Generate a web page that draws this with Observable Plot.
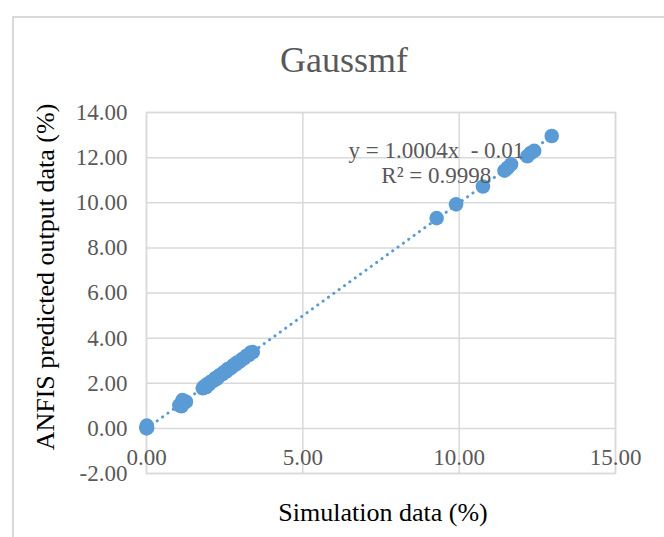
<!DOCTYPE html>
<html>
<head>
<meta charset="utf-8">
<script src="https://cdn.jsdelivr.net/npm/d3@7"></script>
<script src="https://cdn.jsdelivr.net/npm/@observablehq/plot@0.6"></script>
<style>
  html, body { margin: 0; padding: 0; background: #fff; }
  #wrap { position: relative; width: 664px; height: 537px; overflow: hidden; }
  #border { position: absolute; left: 12px; top: 16px; width: 700px; height: 600px;
            border-left: 2px solid #d9d9d9; border-top: 2px solid #d9d9d9; box-sizing: border-box; }
  #wrap svg { position: absolute; left: 0; top: 0; }
</style>
</head>
<body>
<div id="wrap"><div id="border"></div></div>
<script>
const title = "Gaussmf";
const xLabel = "Simulation data (%)";
const yLabel = "ANFIS predicted output data (%)";
const xTicks = [0, 5, 10, 15];
const yTicks = [-2, 0, 2, 4, 6, 8, 10, 12, 14];
const trendSlope = 1.0004;
const trendIntercept = -0.01;
const equationText = "y = 1.0004x  - 0.01\nR² = 0.9998";

const simulation = [
  0.00, 0.00, 0.01, 0.02,
  1.05, 1.10, 1.12, 1.18, 1.22, 1.26, 1.15,
  1.80, 1.85, 1.90, 1.95, 2.00, 2.05, 2.10, 2.15, 2.20, 2.25, 2.30, 2.35, 2.42, 2.48,
  2.55, 2.60, 2.66, 2.72, 2.78, 2.85, 2.90, 2.97, 3.05, 3.12, 3.20, 3.27, 3.33, 3.40,
  9.28, 9.90, 10.76, 11.45, 11.55, 11.66, 12.18, 12.28, 12.40, 12.96
];
const predicted = [
  0.00, 0.05, 0.12, 0.03,
  1.02, 1.08, 0.98, 1.15, 1.20, 1.18, 1.25,
  1.78, 1.86, 1.82, 1.97, 1.95, 2.06, 2.08, 2.12, 2.22, 2.20, 2.31, 2.36, 2.40, 2.50,
  2.52, 2.63, 2.64, 2.70, 2.80, 2.83, 2.92, 2.95, 3.06, 3.10, 3.22, 3.25, 3.36, 3.38,
  9.32, 9.93, 10.72, 11.42, 11.55, 11.70, 12.06, 12.20, 12.30, 12.96
];

const points = simulation.map((x, i) => ({x, y: predicted[i]}));
const xMin = d3.min(simulation), xMax = d3.max(simulation);
const trend = [xMin, xMax].map(x => ({x, y: trendSlope * x + trendIntercept}));

const blue = "#5B9BD5";
const grid = "#d9d9d9";
const gray = "#595959";
const serif = "'Liberation Serif', 'Times New Roman', serif";

const chart = Plot.plot({
  width: 664,
  height: 537,
  marginLeft: 146,
  marginRight: 49,
  marginTop: 112,
  marginBottom: 64,
  style: {fontFamily: serif, background: "transparent", overflow: "visible"},
  x: {domain: [0, 15], axis: null},
  y: {domain: [-2, 14], axis: null},
  marks: [
    Plot.gridX(xTicks, {stroke: grid, strokeOpacity: 1, strokeWidth: 1.5}),
    Plot.gridY(yTicks, {stroke: grid, strokeOpacity: 1, strokeWidth: 1.5}),
    Plot.frame({stroke: grid, strokeWidth: 1.5}),
    Plot.axisY(yTicks, {tickSize: 0, tickPadding: 19, tickFormat: d => d.toFixed(2),
      fontSize: 23, fill: gray, label: null}),
    Plot.text(xTicks, {x: d => d, y: 0, text: d => d.toFixed(2), dy: 29,
      fontSize: 23, fill: gray}),
    Plot.line(trend, {x: "x", y: "y", stroke: blue, strokeWidth: 3,
      strokeDasharray: "0.1 6.5", strokeLinecap: "round"}),
    Plot.dot(points, {x: "x", y: "y", r: 7.3, fill: blue, stroke: "none"}),
    Plot.text([equationText], {x: 9.27, y: 11.8, text: d => d, fontSize: 23,
      fill: gray, lineHeight: 1.1, lineAnchor: "middle"}),
    Plot.text([title], {frameAnchor: "top", dx: -37, dy: -52, text: d => d,
      fontSize: 36, fill: gray, lineAnchor: "middle"}),
    Plot.text([xLabel], {frameAnchor: "bottom", dx: 2, dy: 39, text: d => d,
      fontSize: 26, fill: "#000", lineAnchor: "middle"}),
    Plot.text([yLabel], {frameAnchor: "left", dx: -101, dy: -16, rotate: -90, text: d => d,
      fontSize: 26, fill: "#000", textAnchor: "middle", lineAnchor: "middle"})
  ]
});
document.getElementById("wrap").appendChild(chart);
</script>
</body>
</html>
